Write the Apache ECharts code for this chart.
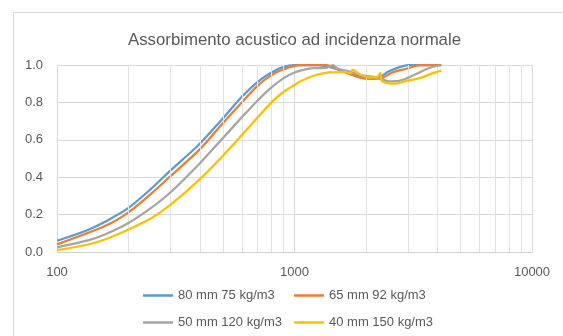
<!DOCTYPE html>
<html><head><meta charset="utf-8">
<script src="https://cdn.jsdelivr.net/npm/echarts@6/dist/echarts.min.js"></script>
<style>html,body{margin:0;padding:0;background:#fff}#c{width:563px;height:336px}</style>
</head><body><div id="c"></div>
<script>
const seriesNames = ['80 mm 75 kg/m3','65 mm 92 kg/m3','50 mm 120 kg/m3','40 mm 150 kg/m3'];
const blueFreq = [100,135,160,200,250,300,362,400,500,600,700,800,900,1000,1250,1450,1700,1930,2120,2270,2500,2750,3000,4150];
const blueVal  = [0.06,0.118,0.163,0.236,0.34,0.435,0.528,0.58,0.715,0.83,0.91,0.96,0.99,1.0,1.0,0.985,0.955,0.934,0.927,0.934,0.966,0.987,1.0,1.0];
const orangeFreq = [100,160,200,250,300,400,500,600,700,800,900,1000,1050,1360,1540,1760,2000,2270,2580,2960,3370,4150];
const orangeVal  = [0.041,0.14,0.212,0.313,0.405,0.55,0.69,0.80,0.89,0.946,0.977,0.995,1.0,1.0,0.975,0.945,0.927,0.927,0.96,0.98,1.0,1.0];
const grayFreq = [100,135,160,200,250,300,400,500,600,700,800,900,1000,1100,1200,1360,1450,1520,1700,1930,2230,2500,2750,3250,3700,4150];
const grayVal  = [0.025,0.062,0.095,0.155,0.237,0.318,0.475,0.61,0.72,0.81,0.88,0.93,0.96,0.975,0.983,0.985,1.0,0.98,0.966,0.945,0.934,0.913,0.915,0.952,0.984,1.0];
const yellowFreq = [100,135,160,200,250,300,400,500,600,700,800,900,1000,1050,1190,1400,1650,1720,1758,1880,2060,2220,2298,2340,2670,2960,3370,3800,4150];
const yellowVal  = [0.01,0.04,0.068,0.12,0.182,0.252,0.39,0.515,0.625,0.72,0.80,0.857,0.893,0.91,0.94,0.96,0.962,0.955,0.975,0.95,0.934,0.934,0.957,0.913,0.90,0.915,0.93,0.955,0.97];
const minorGrid = [200,300,400,500,600,700,800,900,2000,3000,4000,5000,6000,7000,8000,9000];
const colors = ['#5B9BD5','#ED7D31','#A5A5A5','#FFC000'];

const pairs = (f,v) => f.map((x,i)=>[x,v[i]]);
const allData = [pairs(blueFreq,blueVal),pairs(orangeFreq,orangeVal),pairs(grayFreq,grayVal),pairs(yellowFreq,yellowVal)];
const txt = '#595959';
const font = 'Liberation Sans, Arial, sans-serif';

const chart = echarts.init(document.getElementById('c'));
const series = allData.map((d,i)=>({
  name: seriesNames[i], type:'line', data:d, symbol:'none', showSymbol:false, smooth:0.3, clip:false,
  lineStyle:{color:colors[i], width:2.25}, itemStyle:{color:colors[i]}, z:3+i
}));
series.unshift({
  type:'line', data:[], silent:true, z:1,
  markLine:{silent:true, symbol:'none', label:{show:false},
    lineStyle:{color:'#e3e3e3', width:1, type:'solid'},
    data: minorGrid.map(v=>({xAxis:v}))}
});
const legPos = [[143,289],[294,289],[143,316],[294,316]];
chart.setOption({
  animation:false,
  graphic:[{type:'rect', shape:{x:13.5,y:12.5,width:600,height:400}, style:{fill:'none', stroke:'#d9d9d9', lineWidth:1}, silent:true, z:-1}],
  title:{text:'Assorbimento acustico ad incidenza normale', left:123, top:27,
    textStyle:{color:txt, fontSize:16.8, fontWeight:'normal', fontFamily:font}},
  grid:{left:57, right:31, top:65, bottom:84},
  xAxis:{type:'log', logBase:10, min:100, max:10000,
    axisLine:{lineStyle:{color:'#d0d0d0'}}, axisTick:{show:false},
    splitLine:{show:true, lineStyle:{color:'#d9d9d9'}},
    axisLabel:{color:txt, fontSize:13, fontFamily:font, margin:14, formatter:v=>String(v)}},
  yAxis:{type:'value', min:0, max:1, interval:0.2,
    axisLine:{show:false}, axisTick:{show:false},
    splitLine:{lineStyle:{color:'#d9d9d9'}},
    axisLabel:{color:txt, fontSize:13, fontFamily:font, margin:14, formatter:v=>v.toFixed(1)}},
  legend: seriesNames.map((n,i)=>({
    data:[{name:n, icon:'rect', itemStyle:{color:colors[i]}}], left:legPos[i][0], top:legPos[i][1],
    itemWidth:30, itemHeight:2.5, padding:0,
    textStyle:{color:txt, fontSize:13, fontFamily:font}
  })),
  series: series
});
</script></body></html>
